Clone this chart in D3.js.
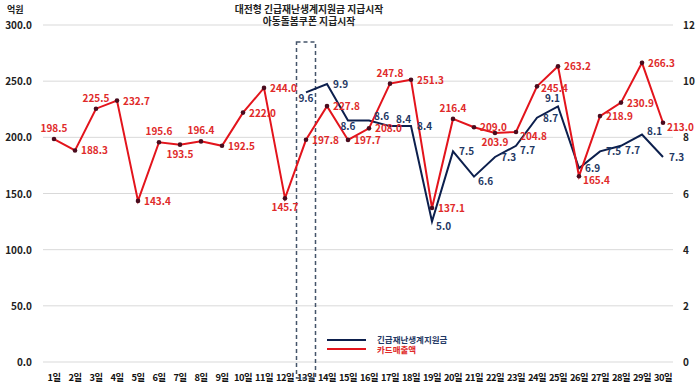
<!DOCTYPE html>
<html>
<head>
<meta charset="utf-8">
<script src="https://cdn.jsdelivr.net/npm/d3@7"></script>
<style>
  body { margin: 0; background: #fff; }
  svg text { font-family: "Noto Sans CJK KR", "Noto Sans", sans-serif; font-weight: 700; }
</style>
</head>
<body>
<svg width="699" height="389"></svg>
<script>
const days = d3.range(1, 31).map(d => d + '일');
const cardSales = [198.5, 188.3, 225.5, 232.7, 143.4, 195.6, 193.5, 196.4, 192.5, 222.0,
  244.0, 145.7, 197.8, 227.8, 197.7, 208.0, 247.8, 251.3, 137.1, 216.4,
  209.0, 203.9, 204.8, 245.4, 263.2, 165.4, 218.9, 230.9, 266.3, 213.0];
// 지원금 series starts on day 13
const aidDays = days.slice(12);
const aid = [9.6, 9.9, 8.6, 8.6, 8.4, 8.4, 5.0, 7.5, 6.6, 7.3, 7.7, 8.7, 9.1, 6.9, 7.5, 7.7, 8.1, 7.3];
const leftTicks = [0, 50, 100, 150, 200, 250, 300];
const rightTicks = [0, 2, 4, 6, 8, 10, 12];
const seriesNames = ['긴급재난생계지원금', '카드매출액'];
const titleLines = ['대전형 긴급재난생계지원금 지급시작', '아동돌봄쿠폰 지급시작'];

// label placement (style only)
const cardPos = ['t','r','t','r','r','t','b','t','r','r','r','b','r','r','r','r','t','r','r','t',
  'r','b','rb','rs','r','rb','r','r','r','rb'];
const aidPos = ['bs','r','bs','ra','rh','r','rb','r','rb','r','rb','r','tl','r','r','rb','ra','r'];
const offsets = {
  t: [0, -7, 'middle'], b: [0, 13, 'middle'], bs: [0, 10, 'middle'],
  r: [6, 4, 'start'], rb: [4, 8, 'start'], rs: [4, 6, 'start'],
  ra: [5, 0, 'start'], rh: [6, -3, 'start'], tl: [2, -4, 'end']
};

const RED = '#e3141c', NAVY = '#0c1f4d';
const svg = d3.select('svg');

const x = d3.scaleBand().domain(days).range([43.5, 673.5]);
const yL = d3.scaleLinear().domain([0, 300]).range([362, 25]);
const yR = d3.scaleLinear().domain([0, 12]).range([362, 25]);
const cx = d => x(d) + x.bandwidth() / 2;

// grid
svg.append('g').selectAll('line').data(leftTicks).enter().append('line')
  .attr('x1', 43).attr('x2', 673)
  .attr('y1', d => yL(d)).attr('y2', d => yL(d))
  .attr('stroke', '#d9d9d9').attr('stroke-width', 1);

svg.append('g').selectAll('text').data(leftTicks).enter().append('text')
  .attr('x', 32).attr('y', d => yL(d) + 4)
  .attr('text-anchor', 'end').attr('font-size', 10).attr('fill', '#222')
  .text(d => d.toFixed(1));

svg.append('g').selectAll('text').data(rightTicks).enter().append('text')
  .attr('x', 683).attr('y', d => yR(d) + 4)
  .attr('font-size', 10).attr('fill', '#222')
  .text(d => d);

svg.append('text').attr('x', 7).attr('y', 13).attr('font-size', 9).attr('fill', '#222').text('억원');

svg.append('g').selectAll('text').data(days).enter().append('text')
  .attr('x', d => cx(d)).attr('y', 381)
  .attr('text-anchor', 'middle').attr('font-size', 9.3).attr('letter-spacing', -0.5)
  .attr('fill', '#111')
  .text(d => d);

// title
svg.append('g').selectAll('text').data(titleLines).enter().append('text')
  .attr('x', 309).attr('y', (d, i) => 13 + i * 12)
  .attr('text-anchor', 'middle').attr('font-size', 9.8).attr('fill', '#222')
  .text(d => d);

// dashed box around day 13
svg.append('rect')
  .attr('x', cx(days[12]) - 9.5).attr('y', 42)
  .attr('width', 19).attr('height', 336)
  .attr('fill', 'none').attr('stroke', '#44546a')
  .attr('stroke-width', 1.5).attr('stroke-dasharray', '4,3');

// lines
svg.append('path').datum(aid)
  .attr('fill', 'none').attr('stroke', NAVY).attr('stroke-width', 2)
  .attr('d', d3.line().x((d, i) => cx(aidDays[i])).y(d => yR(d)));

svg.append('path').datum(cardSales)
  .attr('fill', 'none').attr('stroke', RED).attr('stroke-width', 2)
  .attr('d', d3.line().x((d, i) => cx(days[i])).y(d => yL(d)));

svg.append('g').selectAll('circle').data(cardSales).enter().append('circle')
  .attr('cx', (d, i) => cx(days[i])).attr('cy', d => yL(d))
  .attr('r', 2.3).attr('fill', '#4a0c1e');

function place(sel, pos) {
  sel.attr('text-anchor', (d, i) => offsets[pos[i]][2])
    .attr('dx', (d, i) => offsets[pos[i]][0])
    .attr('dy', (d, i) => offsets[pos[i]][1]);
}

svg.append('g').selectAll('text').data(cardSales).enter().append('text')
  .attr('x', (d, i) => cx(days[i])).attr('y', d => yL(d))
  .attr('font-size', 10).attr('fill', '#e02a2a')
  .text(d => d.toFixed(1))
  .call(place, cardPos);

svg.append('g').selectAll('text').data(aid).enter().append('text')
  .attr('x', (d, i) => cx(aidDays[i])).attr('y', d => yR(d))
  .attr('font-size', 10).attr('fill', '#1f3864')
  .text(d => d.toFixed(1))
  .call(place, aidPos);

// legend
const legend = svg.append('g').selectAll('g').data(seriesNames).enter().append('g')
  .attr('transform', (d, i) => `translate(327,${340 + i * 9})`);
legend.append('line').attr('x1', 0).attr('x2', 39)
  .attr('stroke', (d, i) => i ? RED : NAVY).attr('stroke-width', 2);
legend.append('text').attr('x', 50).attr('y', (d, i) => i ? 4 : 2.5)
  .attr('font-size', 8.5).attr('fill', (d, i) => i ? '#e02a2a' : '#1f3864')
  .text(d => d);
</script>
</body>
</html>
